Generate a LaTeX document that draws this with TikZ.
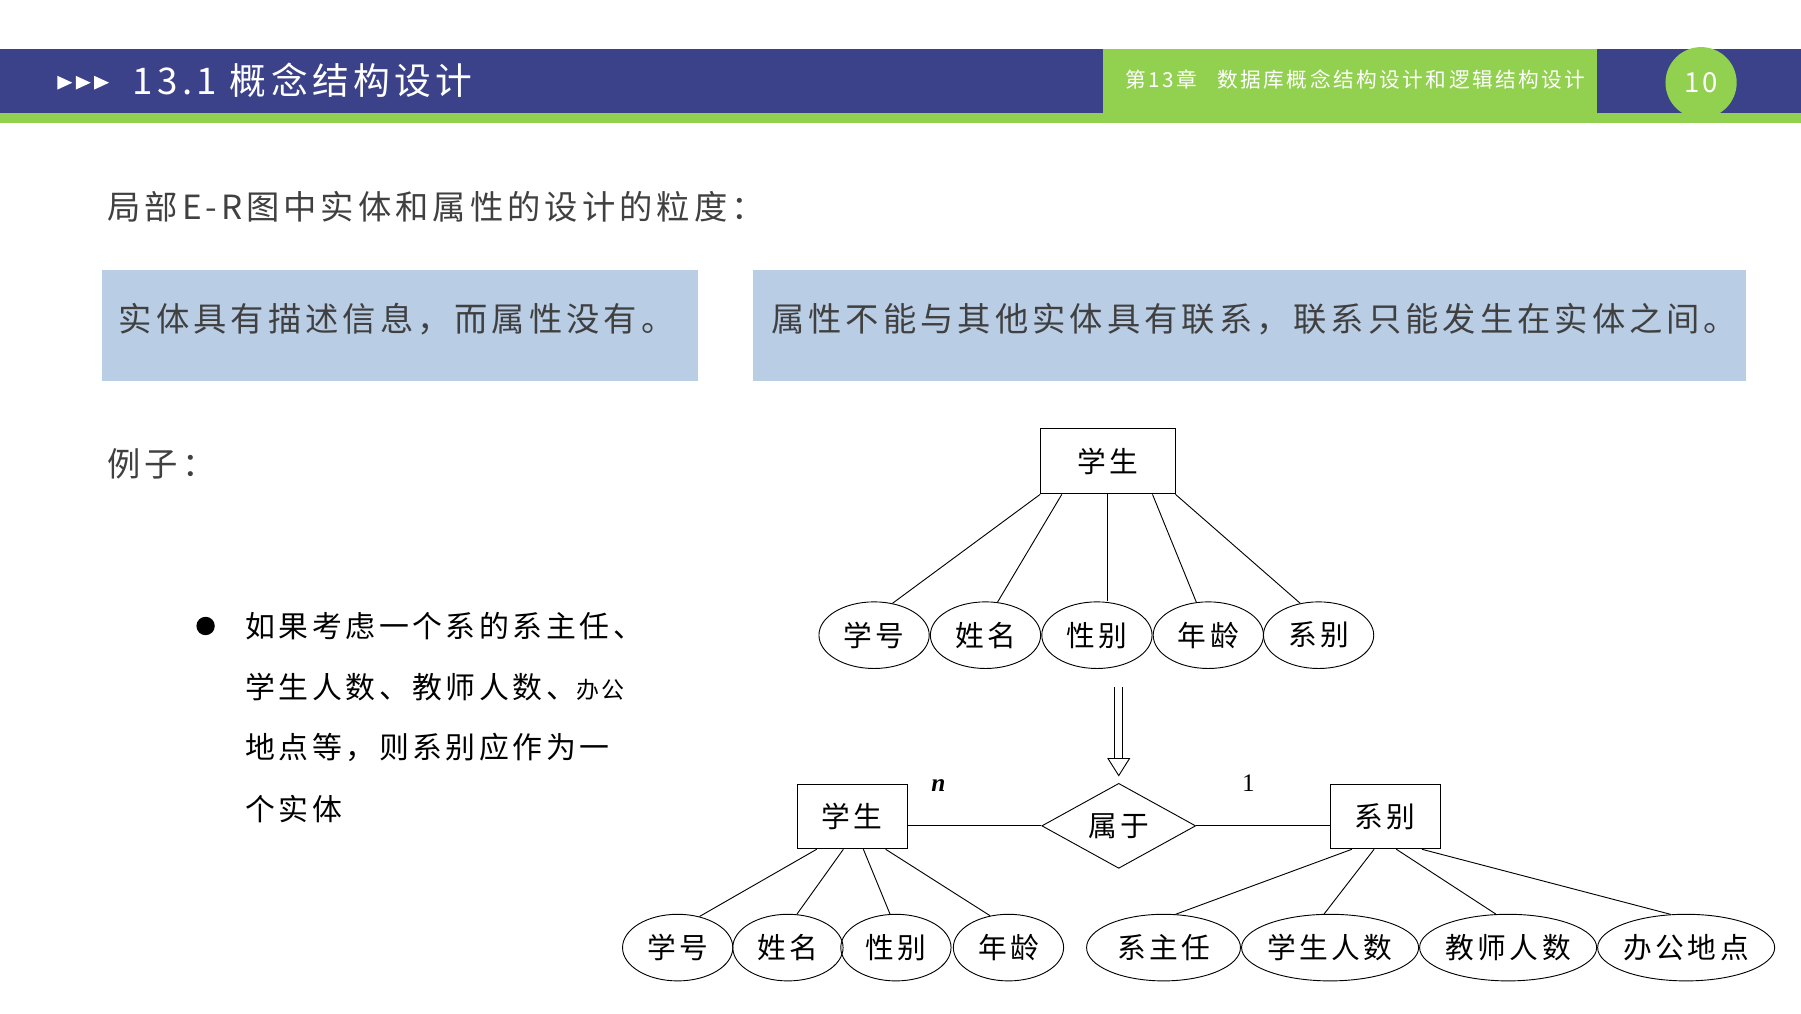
\documentclass[tikz,border=0pt]{standalone}
\usepackage{fontspec}
\setmainfont[LetterSpace=12]{Noto Sans CJK SC}
\newfontfamily\tms{Liberation Serif}
\usetikzlibrary{shapes.geometric,calc,arrows.meta}
\definecolor{hdr}{HTML}{3B4289}
\definecolor{grn}{HTML}{92D050}
\definecolor{lbl}{HTML}{B9CDE5}
\definecolor{txt}{HTML}{404040}
\begin{document}
\begin{tikzpicture}[x=1pt,y=-1pt,
  ent/.style={draw,thick,minimum width=#1,minimum height=56,inner sep=0,font=\fontsize{25}{25}\selectfont},
  att/.style={draw,thick,ellipse,minimum width=#1,minimum height=58,inner sep=0,font=\fontsize{25}{25}\selectfont},
  ln/.style={thick}]
\useasboundingbox (0,0) rectangle (1568,882);
\fill[white] (0,0) rectangle (1568,882);
% header
\fill[hdr] (0,43) rectangle (1568,98);
\fill[grn] (0,98) rectangle (1568,107);
\fill[grn] (960,43) rectangle (1390,98);
\fill[grn] (1481,72) circle (31);
\node[text=white,anchor=west,font=\fontsize{18}{18}\selectfont] (ch) at (976,69) {第13章\quad 数据库概念结构设计和逻辑结构设计};
\node[text=white,font=\fontsize{24}{24}\selectfont] (pg) at (1481,72) {10};
\foreach \x in {50,66,82} \fill[white] (\x,66) -- (\x+13,72) -- (\x,78) -- cycle;
\node[text=white,anchor=west,font=\fontsize{32}{32}\selectfont] (ttl) at (112,70) {13.1 概念结构设计};
% texts
\node[text=txt,anchor=west,font=\fontsize{29}{29}\selectfont] (t1) at (90,180) {局部E-R图中实体和属性的设计的粒度：};
\fill[lbl] (89,235) rectangle (608,332);
\fill[lbl] (656,235) rectangle (1520,332);
\node[text=txt,anchor=west,font=\fontsize{29}{29}\selectfont] (b1) at (100,278) {实体具有描述信息，而属性没有。};
\node[text=txt,anchor=west,font=\fontsize{29}{29}\selectfont] (b2) at (668,278) {属性不能与其他实体具有联系，联系只能发生在实体之间。};
\node[text=txt,anchor=west,font=\fontsize{29}{29}\selectfont] (ex) at (90,404) {例子：};
\fill (179,545) circle (8);
\begin{scope}[every node/.style={anchor=west,font=\fontsize{26}{26}\selectfont}]
\node (l1) at (210,545) {如果考虑一个系的系主任、};
\node (l2) at (210,598) {学生人数、教师人数、{\fontsize{20}{20}\selectfont 办公}};
\node (l3) at (210,651) {地点等，则系别应作为一};
\node (l4) at (210,704) {个实体};
\end{scope}
% top diagram
\node[ent=117,minimum height=57] (S) at (964.5,401.5) {学生};
\node[att=96] (a1) at (761,553) {学号};
\node[att=96] (a2) at (858,553) {姓名};
\node[att=96] (a3) at (955,553) {性别};
\node[att=96] (a4) at (1052,553) {年龄};
\node[att=96] (a5) at (1148,553) {系别};
\draw[ln] (S.south west) -- (a1.60);
\draw[ln] ($(S.south west)!0.16!(S.south east)$) -- (a2.70);
\draw[ln] ($(S.south west)!0.5!(S.south east)$) -- (a3.north -| S.south);
\draw[ln] ($(S.south west)!0.83!(S.south east)$) -- (a4.110);
\draw[ln] (S.south east) -- (a5.120);
% double arrow
\coordinate (ar1) at (974,598);
\coordinate (ar2) at (974,676);
\draw[thick,double distance=6pt,-{Triangle[open,length=16pt,width=20pt]}] (ar1) -- (ar2);
% bottom diagram
\node[ent=96] (S2) at (742,711) {学生};
\node[draw,thick,diamond,aspect=1.8,minimum width=134,minimum height=74,inner sep=0,font=\fontsize{25}{25}\selectfont] (R) at (974,719) {属于};
\node[ent=96] (D) at (1206,711) {系别};
\draw[ln] (S2.east |- R) -- (R.west);
\draw[ln] (R.east) -- (D.west |- R);
\node[font=\fontsize{22}{22}\selectfont\tms\itshape\bfseries] (n) at (817,684) {n};
\node[font=\fontsize{22}{22}\selectfont\tms] (one) at (1087,682) {1};
\node[att=96] (c1) at (590,825) {学号};
\node[att=96] (c2) at (686,825) {姓名};
\node[att=96] (c3) at (780,825) {性别};
\node[att=96] (c4) at (878,825) {年龄};
\node[att=134] (d1) at (1013,825) {系主任};
\node[att=152] (d2) at (1158,825) {学生人数};
\node[att=152] (d3) at (1313,825) {教师人数};
\node[att=152] (d4) at (1468,825) {办公地点};
\draw[ln] ($(S2.south west)!0.18!(S2.south east)$) -- (c1.55);
\draw[ln] ($(S2.south west)!0.42!(S2.south east)$) -- (c2.75);
\draw[ln] ($(S2.south west)!0.6!(S2.south east)$) -- (c3.100);
\draw[ln] ($(S2.south west)!0.8!(S2.south east)$) -- (c4.120);
\draw[ln] ($(D.south west)!0.2!(D.south east)$) -- (d1.70);
\draw[ln] ($(D.south west)!0.4!(D.south east)$) -- (d2.100);
\draw[ln] ($(D.south west)!0.6!(D.south east)$) -- (d3.110);
\draw[ln] ($(D.south west)!0.83!(D.south east)$) -- (d4.115);
\end{tikzpicture}
\end{document}
